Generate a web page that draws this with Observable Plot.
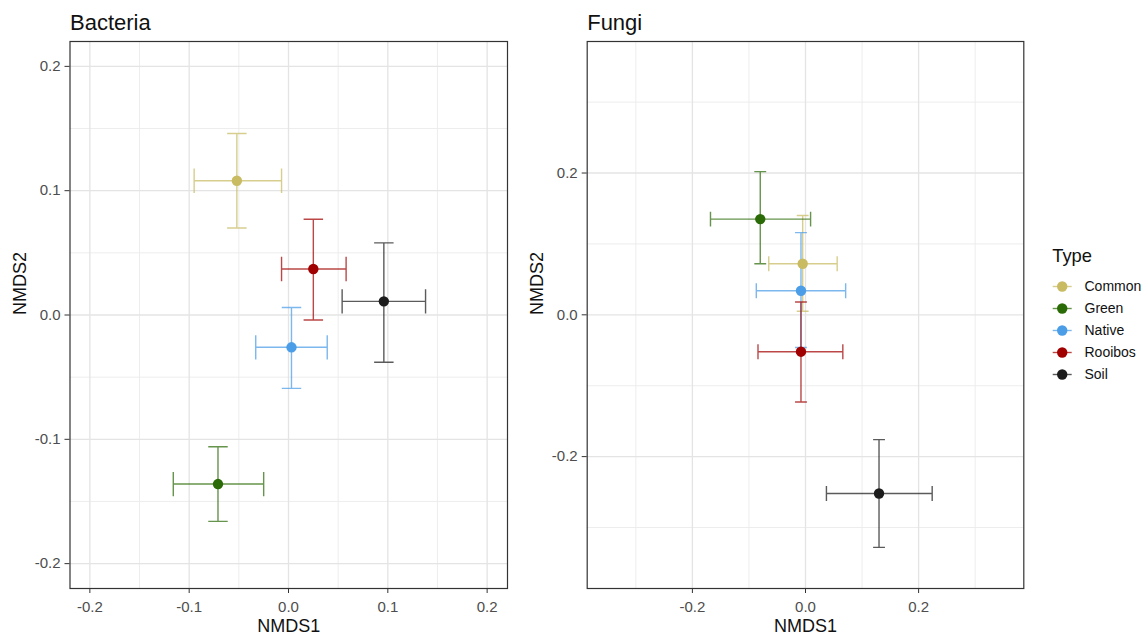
<!DOCTYPE html>
<html>
<head>
<meta charset="utf-8">
<script src="https://cdn.jsdelivr.net/npm/d3@7"></script>
<script src="https://cdn.jsdelivr.net/npm/@observablehq/plot@0.6"></script>
<style>
  html, body { margin: 0; padding: 0; background: #fff; overflow: hidden; }
  #wrap { position: relative; width: 1148px; height: 635px; font-family: "Liberation Sans", Arial, sans-serif; }
  .pane { position: absolute; top: 0; }
</style>
</head>
<body>
<div id="wrap">
  <div id="bact" class="pane" style="left:0px"></div>
  <div id="fungi" class="pane" style="left:520px"></div>
  <div id="legend" class="pane" style="left:1040px; top:240px"></div>
</div>
<script>
// ---- data ----
const types  = ["Common", "Green", "Native", "Rooibos", "Soil"];
const colors = ["#C8BB62", "#2B6B07", "#4A9DE6", "#A10000", "#1C1C1C"];

// Bacteria
const bx    = [-0.052, -0.071, 0.003, 0.025, 0.096];
const by    = [0.108, -0.136, -0.026, 0.037, 0.011];
const bxmin = [-0.095, -0.116, -0.033, -0.007, 0.054];
const bxmax = [-0.007, -0.025, 0.039, 0.058, 0.138];
const bymin = [0.070, -0.166, -0.059, -0.004, -0.038];
const bymax = [0.146, -0.106, 0.006, 0.077, 0.058];

// Fungi
const fx    = [-0.005, -0.080, -0.008, -0.008, 0.130];
const fy    = [0.072, 0.135, 0.034, -0.052, -0.252];
const fxmin = [-0.065, -0.168, -0.087, -0.084, 0.037];
const fxmax = [0.056, 0.009, 0.071, 0.066, 0.224];
const fymin = [0.005, 0.072, -0.046, -0.123, -0.328];
const fymax = [0.140, 0.202, 0.116, 0.018, -0.176];

// ticks
const bMajor = [-0.2, -0.1, 0.0, 0.1, 0.2];
const bMinor = [-0.15, -0.05, 0.05, 0.15];
const fMajor = [-0.2, 0.0, 0.2];
const fMinor = [-0.3, -0.1, 0.1, 0.3];

const FONT = '"Liberation Sans", Arial, sans-serif';
const colorScale = {domain: types, range: colors};

function rowsOf(x, y, xmin, xmax, ymin, ymax) {
  return types.map((t, i) => ({type: t, x: x[i], y: y[i], xmin: xmin[i], xmax: xmax[i], ymin: ymin[i], ymax: ymax[i]}));
}

function barPaths(rows, cap) {
  const v = [], h = [];
  rows.forEach((d, i) => {
    [[d.x - cap, d.ymax], [d.x + cap, d.ymax], [d.x, d.ymax], [d.x, d.ymin], [d.x - cap, d.ymin], [d.x + cap, d.ymin]]
      .forEach(([px, py]) => v.push({id: i, type: d.type, px, py}));
    [[d.xmax, d.y - cap], [d.xmax, d.y + cap], [d.xmax, d.y], [d.xmin, d.y], [d.xmin, d.y - cap], [d.xmin, d.y + cap]]
      .forEach(([px, py]) => h.push({id: i, type: d.type, px, py}));
  });
  return {v, h};
}

function panel({title, rows, xdom, ydom, major, minor, mL, mR, cap}) {
  const {v, h} = barPaths(rows, cap);
  const fmt = d => d.toFixed(1);
  const lineOpts = {x: "px", y: "py", z: "id", stroke: "type", strokeOpacity: 0.72, strokeWidth: 1.4, strokeLinejoin: "miter", strokeLinecap: "butt"};
  return Plot.plot({
    width: 520, height: 635,
    marginLeft: mL, marginRight: mR, marginTop: 41, marginBottom: 47,
    style: {fontFamily: FONT, background: "transparent", overflow: "visible"},
    x: {domain: xdom},
    y: {domain: ydom},
    color: colorScale,
    marks: [
      Plot.gridX(minor, {stroke: "#ebebeb", strokeOpacity: 1, strokeWidth: 0.9}),
      Plot.gridY(minor, {stroke: "#ebebeb", strokeOpacity: 1, strokeWidth: 0.9}),
      Plot.gridX(major, {stroke: "#e4e4e4", strokeOpacity: 1, strokeWidth: 1.3}),
      Plot.gridY(major, {stroke: "#e4e4e4", strokeOpacity: 1, strokeWidth: 1.3}),
      Plot.axisX(major, {tickFormat: fmt, tickSize: 5, tickPadding: 7.5, fontSize: 15, fill: "#4d4d4d", stroke: "#333", label: null}),
      Plot.axisY(major, {tickFormat: fmt, tickSize: 5, tickPadding: 4.5, fontSize: 15, fill: "#4d4d4d", stroke: "#333", label: null}),
      Plot.line(v, lineOpts),
      Plot.line(h, lineOpts),
      Plot.dot(rows, {x: "x", y: "y", fill: "type", r: 5.2, stroke: null}),
      Plot.frame({stroke: "#333", strokeWidth: 1.2}),
      Plot.text([title], {frameAnchor: "top-left", dy: -12, textAnchor: "start", lineAnchor: "bottom", fontSize: 22, fill: "#111"}),
      Plot.text(["NMDS1"], {frameAnchor: "bottom", dy: 43, lineAnchor: "bottom", fontSize: 18, fill: "#111"}),
      Plot.text(["NMDS2"], {frameAnchor: "left", dx: -49.5, rotate: -90, lineAnchor: "middle", fontSize: 18, fill: "#111"})
    ]
  });
}

const bRows = rowsOf(bx, by, bxmin, bxmax, bymin, bymax);
const fRows = rowsOf(fx, fy, fxmin, fxmax, fymin, fymax);

document.getElementById("bact").append(panel({
  title: "Bacteria", rows: bRows, xdom: [-0.22, 0.2205], ydom: [-0.22, 0.22],
  major: bMajor, minor: bMinor, mL: 69.5, mR: 13, cap: 0.0098
}));
document.getElementById("fungi").append(panel({
  title: "Fungi", rows: fRows, xdom: [-0.386, 0.386], ydom: [-0.386, 0.3855],
  major: fMajor, minor: fMinor, mL: 66.7, mR: 16.7, cap: 0.0105
}));

// legend
document.getElementById("legend").append(Plot.plot({
  width: 108, height: 150,
  marginLeft: 0, marginRight: 0, marginTop: 0, marginBottom: 0,
  style: {fontFamily: FONT, background: "transparent", overflow: "visible"},
  x: {domain: [0, 108], range: [0, 108], axis: null},
  y: {type: "point", domain: types, range: [45, 135], padding: 0, axis: null},
  color: colorScale,
  marks: [
    Plot.text(["Type"], {frameAnchor: "top-left", dx: 11.7, dy: 21, textAnchor: "start", lineAnchor: "bottom", fontSize: 18.4, fill: "#111"}),
    Plot.ruleY(types, {y: d => d, x1: 12.7, x2: 31.7, stroke: d => d, strokeOpacity: 0.72, strokeWidth: 1.4}),
    Plot.dot(types, {x: 21.7, y: d => d, fill: d => d, r: 5.2}),
    Plot.text(types, {x: 44, y: d => d, text: d => d, textAnchor: "start", fontSize: 14, fill: "#111"})
  ]
}));
</script>
</body>
</html>
